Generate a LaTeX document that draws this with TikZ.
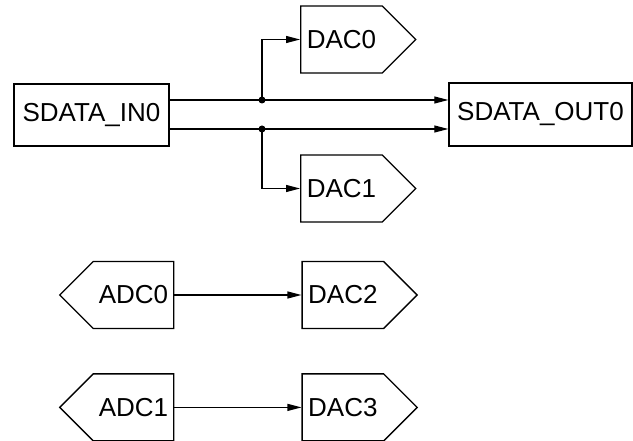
\documentclass[tikz,border=0pt]{standalone}
\usepackage{fontspec}
\setmainfont{Liberation Sans}
\usetikzlibrary{arrows.meta, positioning, shapes.symbols}

\begin{document}
\begin{tikzpicture}[
x=1pt, y=-1pt,
node distance = 44pt and 127pt,
  boks/.style = {rectangle, draw, line width=1.4pt, inner sep=0pt,
                 font=\fontsize{26}{30}\selectfont},
   dac/.style = {boks, signal, signal to=east, minimum height=67pt, minimum width=115pt},
   adc/.style = {boks, signal, signal to=west, minimum height=67pt, minimum width=114pt},
   pil/.style = {black, line width=1.1pt, -{Triangle[length=14pt,width=7pt]}}
                    ]
\useasboundingbox (0,0) rectangle (633,441);
%nodes
\node[boks, minimum width=155pt, minimum height=62pt] (in0)  at (91.5,115)  {SDATA\_IN0};
\node[boks, minimum width=183pt, minimum height=63pt] (out0) at (540.5,114.5) {SDATA\_OUT0};
\node[dac] (dac0) at (341.5,39.5)  {DAC0};
\node[dac] (dac1) at (341.5,188.5) {DAC1};
\node[adc] (adc0) at (133.5,295) {ADC0};
\node[dac] (dac2) [right=of adc0] {DAC2};
\node[adc] (adc1) [below=of adc0] {ADC1};
\node[dac] (dac3) [below=of dac2] {DAC3};

% junctions
\coordinate (j0) at (262,100);
\coordinate (j1) at (262,129);

% edges
\draw[pil] (in0.east |- j0) -- (out0.west |- j0);
\draw[pil] (in0.east |- j1) -- (out0.west |- j1);
\draw[pil] (j0) |- (dac0.west);
\draw[pil] (j1) |- (dac1.west);
\fill (j0) circle (3.5pt) (j1) circle (3.5pt);

\draw[pil] (adc0.east) -- (dac2.west |- adc0.east);
\draw[pil] (adc1.east) -- (dac3.west |- adc1.east);
\end{tikzpicture}
\end{document}
